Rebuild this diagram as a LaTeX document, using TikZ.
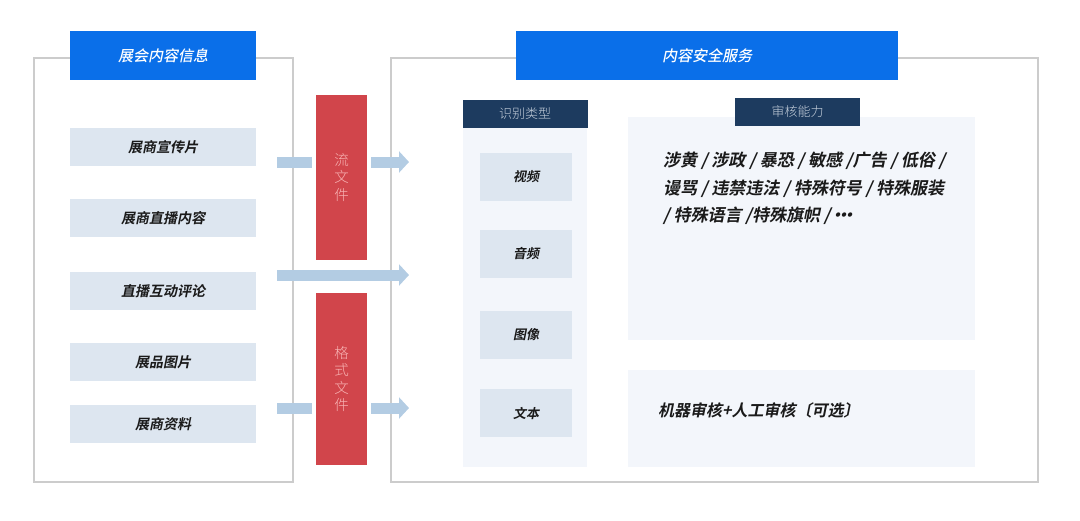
\documentclass[tikz,border=0pt]{standalone}
\usepackage{fontspec}
\setmainfont{Noto Sans CJK SC}
\newfontfamily\cjklight{Noto Sans CJK SC Light}
\newfontfamily\cjkmed{Noto Sans CJK SC Medium}[FakeSlant=0.2]
\newfontfamily\cjkheavy{Noto Sans CJK SC Bold}[FakeSlant=0.2]
\usetikzlibrary{arrows.meta,shadows}
\definecolor{titleblue}{HTML}{0A6FE9}
\definecolor{headnavy}{HTML}{1D3B5F}
\definecolor{headtext}{HTML}{C5CFDB}
\definecolor{itemfill}{HTML}{DDE6F0}
\definecolor{panelfill}{HTML}{F3F6FB}
\definecolor{filered}{HTML}{D1454B}
\definecolor{filetext}{HTML}{F8B4B4}
\definecolor{flowblue}{HTML}{B3CCE3}
\definecolor{framegray}{HTML}{CCCCCC}
\definecolor{inktext}{HTML}{1A1A1A}
\begin{document}
\begin{tikzpicture}[x=1pt,y=-1pt,
        frame/.style={draw=framegray,line width=1.2pt},
        titlebox/.style={fill=titleblue,text=white,inner sep=0pt,minimum height=49pt,
            font=\cjkmed\fontsize{15}{18}\selectfont},
        headbox/.style={fill=headnavy,text=headtext,inner sep=0pt,minimum width=125pt,
            minimum height=28pt,font=\cjklight\fontsize{13}{15}\selectfont},
        infoitem/.style={fill=itemfill,text=inktext,inner sep=0pt,minimum width=186pt,
            minimum height=38pt,font=\cjkheavy\fontsize{14}{16}\selectfont},
        typeitem/.style={fill=itemfill,text=inktext,inner sep=0pt,minimum width=92pt,
            minimum height=48pt,font=\cjkheavy\fontsize{13}{15}\selectfont},
        filebox/.style={fill=filered,draw=white,line width=4pt,minimum width=55pt,
            inner sep=0pt,align=center,text=filetext,
            drop shadow={opacity=0.12,shadow xshift=1pt,shadow yshift=-2pt},
            font=\cjklight\fontsize{14.5}{17.5}\selectfont},
        flow/.style={draw=flowblue,line width=11pt,-{Triangle[length=10pt,width=21pt]}},
        ability/.style={anchor=west,inner sep=0pt,text=inktext,
            font=\cjkheavy\fontsize{17}{20}\selectfont}]
    \useasboundingbox (0,0) rectangle (1080,520);
    %===========================================
    % left frame
    \draw[frame] (34,58) rectangle (293,482);
    \node[titlebox,minimum width=186pt] (info) at (163,55.5) {展会内容信息};
    \foreach \y/\name/\txt in {147/i1/展商宣传片,218/i2/展商直播内容,291/i3/直播互动评论,
            362/i4/展品图片,424/i5/展商资料}
        \node[infoitem] (\name) at (163,\y) {\txt};
    %===========================================
    % right frame
    \draw[frame] (391,58) rectangle (1038,482);
    \node[titlebox,minimum width=382pt] (service) at (707,55.5) {内容安全服务};
    \fill[panelfill] (463,128) rectangle (587,467);
    \node[headbox] (types) at (525,114) {识别类型};
    \foreach \y/\name/\txt in {177/t1/视频,254/t2/音频,335/t3/图像,413/t4/文本}
        \node[typeitem] (\name) at (526,\y) {\txt};
    \fill[panelfill] (628,117) rectangle (975,340);
    \fill[panelfill] (628,370) rectangle (975,467);
    \node[headbox] (audit) at (797.5,112) {审核能力};
    \node[ability] (a1) at (663,161) {涉黄 / 涉政 / 暴恐 / 敏感 /广告 / 低俗 /};
    \node[ability] (a2) at (663,189) {谩骂 / 违禁违法 / 特殊符号 / 特殊服装};
    \node[ability] (a3) at (663,216)
        {/ 特殊语言 /特殊旗帜 / \kern-6pt·\kern-11pt·\kern-11pt·};
    \node[ability,font=\cjkheavy\fontsize{16}{19}\selectfont] (mode) at (658,410)
        {机器审核+人工审核〔可选〕};
    %===========================================
    % flows
    \foreach \y/\k in {162/1,275/2,408/3}{
        \coordinate (s\k) at (277,\y);
        \coordinate (e\k) at (409,\y);
        \draw[flow] (s\k) -- (e\k);
    }
    \node[filebox,minimum height=169pt] (stream) at (341.5,177.5) {流\\文\\件};
    \node[filebox,minimum height=176pt] (format) at (341.5,379) {格\\式\\文\\件};
\end{tikzpicture}
\end{document}
